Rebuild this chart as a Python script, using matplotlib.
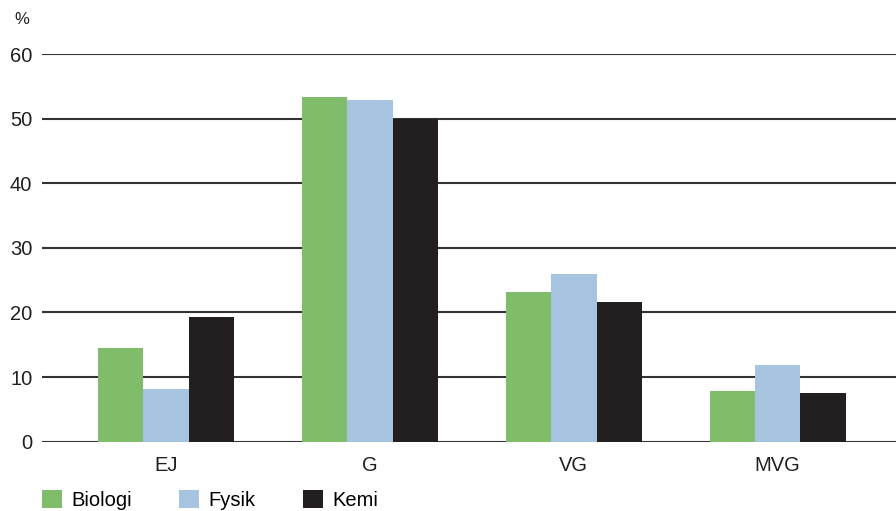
import numpy as np
import matplotlib.pyplot as plt
from matplotlib.patches import Patch

# betygsfördelning per ämne (%)
categories = ["EJ", "G", "VG", "MVG"]
subjects = ["Biologi", "Fysik", "Kemi"]
biologi = [14.5, 53.4, 23.2, 7.9]
fysik = [8.2, 52.9, 26.0, 11.9]
kemi = [19.3, 50.0, 21.6, 7.6]
yticks = [0, 10, 20, 30, 40, 50, 60]

colors = ["#80bd6a", "#a6c4e0", "#231f20"]

plt.rcParams['font.family'] = ['Liberation Sans', 'DejaVu Sans']

fig = plt.figure(figsize=(8.96, 5.11), dpi=100)
ax = fig.add_axes([0.0469, 0.1356, 0.9531, 0.7587])

x = np.arange(len(categories))
w = 0.223
for i, (vals, c) in enumerate(zip([biologi, fysik, kemi], colors)):
    ax.bar(x + (i - 1) * w, vals, width=w, color=c, zorder=3, linewidth=0)

ax.set_xlim(-0.608, 3.58)
ax.set_ylim(0, 60)
ax.set_yticks(yticks)
ax.yaxis.grid(True, color="#333333", linewidth=1.5, zorder=1)
ax.set_axisbelow(True)
ax.set_xticks(x)
ax.set_xticklabels(categories)
ax.tick_params(axis="both", length=0, labelsize=14.5, colors="#231f20")
ax.tick_params(axis="x", pad=10)
ax.tick_params(axis="y", pad=7)
for s in ax.spines.values():
    s.set_visible(False)

fig.text(0.016, 0.962, "%", fontsize=12, color="#231f20", va="center")

handles = [Patch(facecolor=c, edgecolor="none") for c in colors]
fig.legend(handles, subjects, loc="center left", bbox_to_anchor=(0.047, 0.021),
           ncol=3, frameon=False, fontsize=14.5, handlelength=1.0, handleheight=1.0,
           handletextpad=0.45, columnspacing=2.35, borderaxespad=0, borderpad=0)

fig.savefig("out.png", dpi=100)
